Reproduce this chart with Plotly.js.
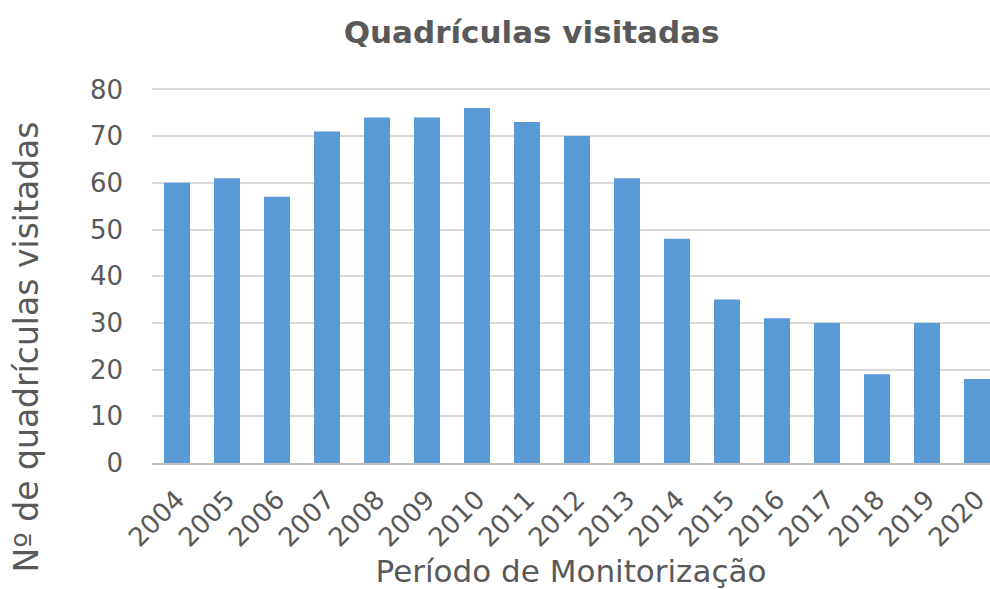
<!DOCTYPE html>
<html>
<head>
<meta charset="utf-8">
<script src="https://cdn.plot.ly/plotly-3.0.1.min.js"></script>
<style>html,body{margin:0;padding:0;background:#fff;}#chart{width:990px;height:589px;}</style>
</head>
<body>
<div id="chart"></div>
<script>
var years = ["2004","2005","2006","2007","2008","2009","2010","2011","2012","2013","2014","2015","2016","2017","2018","2019","2020"];
var visited = [60,61,57,71,74,74,76,73,70,61,48,35,31,30,19,30,18];
var yTicks = [0,10,20,30,40,50,60,70,80];

var font = "DejaVu Sans, Verdana, sans-serif";
var grey = "#595959";

var trace = {
  type: "bar",
  x: years,
  y: visited,
  marker: {color: "#5899d6", line: {width: 0}},
  hoverinfo: "x+y"
};

var layout = {
  width: 990, height: 589,
  paper_bgcolor: "#fff", plot_bgcolor: "#fff",
  margin: {l: 152, r: 0, t: 88, b: 126},
  bargap: 0.48,
  showlegend: false,
  font: {family: font, color: grey},
  title: {text: "<b>Quadrículas visitadas</b>", font: {family: font, size: 31, color: grey}, x: 0.537, xanchor: "center", y: 0.945, yanchor: "middle"},
  xaxis: {
    type: "category",
    range: [-0.5, 16.26],
    tickangle: -45,
    tickfont: {size: 26, color: grey},
    ticklabelstandoff: 9,
    showgrid: false,
    showline: true, linecolor: "#bfbfbf", linewidth: 2,
    ticks: "",
    title: {text: "Período de Monitorização", font: {size: 31, color: grey}, standoff: 22}
  },
  yaxis: {
    range: [0, 80.3],
    tickvals: yTicks,
    ticktext: yTicks.map(String),
    tickfont: {size: 26, color: grey},
    ticklabelstandoff: 28,
    showgrid: true, gridcolor: "#d9d9d9", gridwidth: 2,
    zeroline: false,
    showline: false,
    ticks: ""
  },
  annotations: [{
    text: "Nº de quadrículas visitadas",
    textangle: -90,
    font: {family: font, size: 33, color: grey},
    xref: "paper", yref: "paper",
    x: -0.150, y: 0.309,
    xanchor: "center", yanchor: "middle",
    showarrow: false
  }]
};

Plotly.newPlot("chart", [trace], layout, {displayModeBar: false, staticPlot: true});
</script>
</body>
</html>
